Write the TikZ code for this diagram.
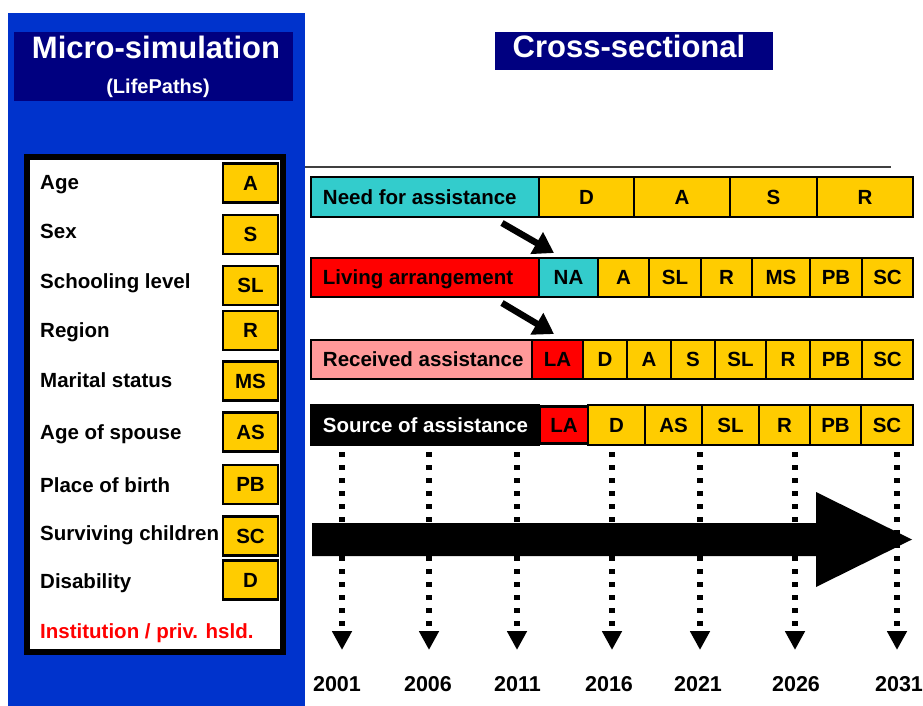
\documentclass[tikz,border=0pt]{standalone}
\usepackage{fontspec}
\setmainfont{Liberation Sans}
\usetikzlibrary{arrows.meta}
\definecolor{panelblue}{HTML}{0033CC}
\definecolor{navyc}{HTML}{000080}
\definecolor{yelc}{HTML}{FFCC00}
\definecolor{tealc}{HTML}{33CCCC}
\definecolor{redc}{HTML}{FF0000}
\definecolor{pinkc}{HTML}{FF9999}
\begin{document}
\begin{tikzpicture}[x=1pt,y=-1pt,
  font=\bfseries\fontsize{20.5}{24}\selectfont,
  cell/.style={draw=black, line width=2.5pt, fill=yelc, inner sep=0pt,
    text height=14.7pt, text depth=0pt, minimum height=39pt},
  lcell/.style={cell, minimum width=55pt},
  labbox/.style={draw=black, line width=2.5pt, inner sep=0pt, minimum height=39pt},
  labtext/.style={anchor=west, inner sep=0pt, text height=14.7pt, text depth=0pt},
  vlabel/.style={anchor=base west, inner sep=0pt},
  dotarrow/.style={line width=6pt, dash pattern=on 5pt off 8pt,
    -{Triangle[length=19pt,width=19pt]}},
  diag/.style={line width=6.5pt, -{Triangle[length=20pt,width=24pt]}},
  year/.style={anchor=base, inner sep=0pt, font=\bfseries\fontsize{21.5}{24}\selectfont},
  titletext/.style={anchor=base, inner sep=0pt, text=white, font=\bfseries\fontsize{31}{34}\selectfont}
]
\useasboundingbox (0,0) rectangle (923,706);
\fill[white] (0,0) rectangle (923,706);

% ---------- left panel ----------
\fill[panelblue] (8,13) rectangle (305,706);
\fill[navyc] (14,32) rectangle (293,101);
\node[titletext] (micro) at (156,59) {Micro-simulation};
\node[anchor=base, inner sep=0pt, text=white, font=\bfseries\fontsize{20}{24}\selectfont] (lifepaths) at (158,94) {(LifePaths)};

\draw[line width=6pt, fill=white] (27,157) rectangle (283,652);

\node[vlabel] (lage) at (40,189) {Age};
\node[vlabel] (lsex) at (40,238) {Sex};
\node[vlabel] (lsl) at (40,288) {Schooling level};
\node[vlabel] (lreg) at (40,337) {Region};
\node[vlabel] (lms) at (40,387) {Marital status};
\node[vlabel] (las) at (40,439) {Age of spouse};
\node[vlabel] (lpb) at (40,492) {Place of birth};
\node[vlabel] (lsc) at (40,540) {Surviving children};
\node[vlabel] (ldis) at (40,588) {Disability};
\node[vlabel, text=redc] (linst) at (40,638) {Institution / priv. hsld.};

\node[lcell] (ca) at (250.5,183) {A};
\node[lcell] (cs) at (250.5,234.5) {S};
\node[lcell] (csl) at (250.5,285.5) {SL};
\node[lcell] (cr) at (250.5,330.5) {R};
\node[lcell] (cms) at (250.5,381) {MS};
\node[lcell] (cas) at (250.5,432) {AS};
\node[lcell] (cpb) at (250.5,484.5) {PB};
\node[lcell] (csc) at (250.5,536) {SC};
\node[lcell] (cd) at (250.5,580) {D};

% ---------- right side ----------
\fill[navyc] (495,32) rectangle (773,70);
\node[titletext] (cross) at (629,58) {Cross-sectional};
\draw[line width=1.2pt, black!75] (305,167) -- (891,167);

% row 1
\node[labbox, fill=tealc, minimum width=228pt, minimum height=40pt] (r1lab) at (425,197) {};
\node[labtext] (r1txt) at ([xshift=13pt]r1lab.west) {Need for assistance};
\node[cell, minimum width=95pt, minimum height=40pt] (r1d) at (586.5,197) {D};
\node[cell, minimum width=96pt, minimum height=40pt] (r1a) at (682,197) {A};
\node[cell, minimum width=87pt, minimum height=40pt] (r1s) at (773.5,197) {S};
\node[cell, minimum width=96pt, minimum height=40pt] (r1r) at (865,197) {R};

% row 2
\node[labbox, fill=redc, minimum width=228pt] (r2lab) at (425,277.5) {};
\node[labtext] (r2txt) at ([xshift=13pt]r2lab.west) {Living arrangement};
\node[cell, fill=tealc, minimum width=59pt] (r2na) at (568.5,277.5) {NA};
\node[cell, minimum width=51pt] (r2a) at (623.5,277.5) {A};
\node[cell, minimum width=52pt] (r2sl) at (675,277.5) {SL};
\node[cell, minimum width=51pt] (r2r) at (726.5,277.5) {R};
\node[cell, minimum width=58pt] (r2ms) at (781,277.5) {MS};
\node[cell, minimum width=52pt] (r2pb) at (836,277.5) {PB};
\node[cell, minimum width=51pt] (r2sc) at (887.5,277.5) {SC};

% row 3
\node[labbox, fill=pinkc, minimum width=221pt] (r3lab) at (421.5,359.5) {};
\node[labtext] (r3txt) at ([xshift=13pt]r3lab.west) {Received assistance};
\node[cell, fill=redc, minimum width=51pt] (r3la) at (557.5,359.5) {LA};
\node[cell, minimum width=44pt] (r3d) at (605,359.5) {D};
\node[cell, minimum width=44pt] (r3a) at (649,359.5) {A};
\node[cell, minimum width=44pt] (r3s) at (693,359.5) {S};
\node[cell, minimum width=51pt] (r3sl) at (740.5,359.5) {SL};
\node[cell, minimum width=44pt] (r3r) at (788,359.5) {R};
\node[cell, minimum width=52pt] (r3pb) at (836,359.5) {PB};
\node[cell, minimum width=51pt] (r3sc) at (887.5,359.5) {SC};

% row 4
\node[labbox, fill=black, minimum width=228pt, minimum height=40pt] (r4lab) at (425,425) {};
\node[labtext, text=white] (r4txt) at ([xshift=13pt]r4lab.west) {Source of assistance};
\node[cell, fill=redc, minimum width=48pt, minimum height=37pt] (r4la) at (564,425) {LA};
\node[cell, minimum width=57pt, minimum height=40pt] (r4d) at (616.5,425) {D};
\node[cell, minimum width=57pt, minimum height=40pt] (r4as) at (673.5,425) {AS};
\node[cell, minimum width=57pt, minimum height=40pt] (r4sl) at (730.5,425) {SL};
\node[cell, minimum width=51pt, minimum height=40pt] (r4r) at (784.5,425) {R};
\node[cell, minimum width=51pt, minimum height=40pt] (r4pb) at (835.5,425) {PB};
\node[cell, minimum width=52pt, minimum height=40pt] (r4sc) at (887,425) {SC};

% diagonal arrows
\coordinate (a1s) at (502,223);
\coordinate (a1e) at (554,253);
\coordinate (a2s) at (502,303);
\coordinate (a2e) at (554,334);
\draw[diag] (a1s) -- (a1e);
\draw[diag] (a2s) -- (a2e);

% dotted timeline arrows
\foreach \x/\n in {342/1,429/2,517/3,612/4,700/5,795/6,897/7}{
  \coordinate (t\n) at (\x,452);
  \coordinate (b\n) at (\x,650);
  \draw[dotarrow] (t\n) -- (b\n);
}

% big arrow
\fill[black] (312,523) -- (816,523) -- (816,492) -- (912,539.5) -- (816,587)
  -- (816,556) -- (312,556) -- cycle;

% years
\node[year] (y1) at (337,691) {2001};
\node[year] (y2) at (428,691) {2006};
\node[year] (y3) at (517.5,691) {2011};
\node[year] (y4) at (609,691) {2016};
\node[year] (y5) at (698,691) {2021};
\node[year] (y6) at (796,691) {2026};
\node[year] (y7) at (899,691) {2031};
\end{tikzpicture}
\end{document}
